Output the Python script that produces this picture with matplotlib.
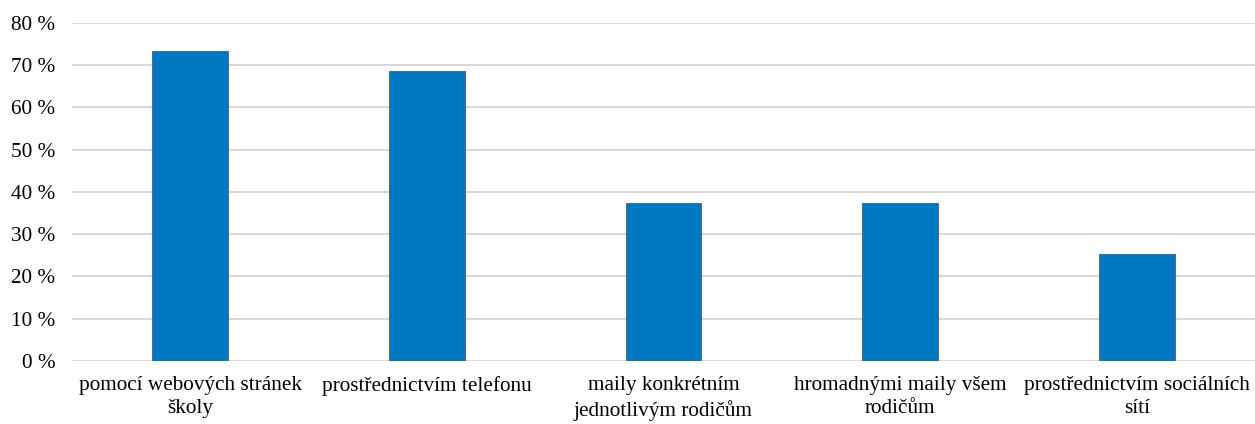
import numpy as np
import matplotlib.pyplot as plt
from matplotlib.ticker import FuncFormatter

plt.rcParams['font.family'] = ['Liberation Serif', 'DejaVu Serif']

categories = ['pomocí webových stránek\nškoly',
              'prostřednictvím telefonu',
              'maily konkrétním\njednotlivým rodičům',
              'hromadnými maily všem\nrodičům',
              'prostřednictvím sociálních\nsítí']
values = [73.3, 68.6, 37.5, 37.5, 25.3]

fig = plt.figure(figsize=(12.55, 4.24), dpi=100)
ax = fig.add_axes([0.0574, 0.1486, 0.9426, 0.7972])

x = np.arange(len(categories))
ax.bar(x, values, width=0.32, color='#0078c2', edgecolor='#5b6b7a', linewidth=0.8, zorder=3)

ax.set_xlim(-0.5, len(categories) - 0.5)
ax.set_ylim(0, 80)
ax.set_yticks(np.arange(0, 81, 10))
ax.yaxis.set_major_formatter(FuncFormatter(lambda v, p: f'{int(v)} %'))
ax.set_xticks(x)
ax.set_xticklabels(categories, fontsize=15.3, linespacing=1.3)
ax.tick_params(axis='y', labelsize=15.3, length=0, pad=12)
ax.tick_params(axis='x', length=0, pad=11)

ax.grid(axis='y', color='#d9d9d9', linewidth=1.5, zorder=0)
ax.set_axisbelow(True)
for s in ax.spines.values():
    s.set_visible(False)

fig.savefig('out.png', dpi=100)
